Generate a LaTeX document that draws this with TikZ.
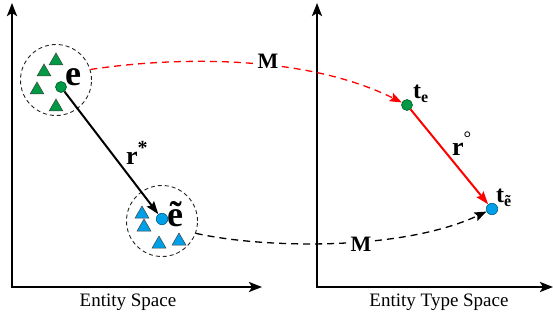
\documentclass[tikz,border=0pt]{standalone}
\usepackage{fontspec}
\setmainfont{Liberation Serif}
\usetikzlibrary{arrows.meta,shapes.geometric}
\definecolor{tgreen}{RGB}{0,153,68}
\definecolor{tblue}{RGB}{0,160,233}
\begin{document}
\begin{tikzpicture}[x=1pt,y=-1pt,
  axis/.style={line width=2.5pt,line join=miter,{Stealth[length=13pt,width=10pt,inset=3pt]}-{Stealth[length=13pt,width=10pt,inset=3pt]}},
  zone/.style={circle,draw=black!85,dash pattern=on 4pt off 3pt,line width=0.9pt,minimum size=71pt,inner sep=0pt},
  dotg/.style={circle,fill=tgreen,draw=tgreen!60!black,line width=0.6pt,minimum size=11pt,inner sep=0pt},
  dotb/.style={circle,fill=tblue,draw=tblue!60!black,line width=0.6pt,minimum size=11.5pt,inner sep=0pt},
  trig/.style={regular polygon,regular polygon sides=3,minimum size=16pt,inner sep=0pt,fill=tgreen,draw=black!75,line width=0.5pt},
  trib/.style={regular polygon,regular polygon sides=3,minimum size=16pt,inner sep=0pt,fill=tblue,draw=black!75,line width=0.5pt},
  lbl/.style={font=\bfseries,inner sep=0pt,anchor=base west},
  axlbl/.style={font=\fontsize{19}{20}\selectfont,inner sep=0pt},
  mlbl/.style={font=\fontsize{22}{22}\selectfont\bfseries,inner sep=1.5pt,fill=white},
  solidarrow/.style={line width=2pt,-{Stealth[length=13pt,width=9pt,inset=2pt]}},
  redarrow/.style={line width=2pt,red,-{Stealth[length=13pt,width=9pt,inset=2pt]}},
  reddash/.style={line width=1.3pt,red,dash pattern=on 7pt off 5pt,-{Stealth[length=12pt,width=9pt,inset=2pt]}},
  blackdash/.style={line width=1.3pt,black,dash pattern=on 7pt off 5pt,-{Stealth[length=12pt,width=9pt,inset=2pt]}}]
\useasboundingbox (0,0) rectangle (553,320);
% axes
\coordinate (ly) at (12,3);
\coordinate (lo) at (12,287);
\coordinate (lx) at (262,287);
\coordinate (ry) at (317,3);
\coordinate (ro) at (317,287);
\coordinate (rx) at (553,287);
\draw[axis] (ly) -- (lo) -- (lx);
\draw[axis] (ry) -- (ro) -- (rx);
\node[axlbl] (ls) at (128,302) {Entity Space};
\node[axlbl] (rs) at (439,302) {Entity Type Space};
% zones
\node[zone] (c1) at (56,80) {};
\node[zone] (c2) at (162,221) {};
% triangles
\node[trig] (g1) at (56,61) {};
\node[trig] (g2) at (44,72) {};
\node[trig] (g3) at (37,90) {};
\node[trig] (g4) at (56,107) {};
\node[trib] (b1) at (142,214) {};
\node[trib] (b2) at (144,227) {};
\node[trib] (b3) at (159,244) {};
\node[trib] (b4) at (179,241) {};
% dots
\node[dotg] (ge) at (61,87) {};
\node[dotb] (be) at (162,219) {};
\node[dotg] (te) at (407,105) {};
\node[dotb] (tb) at (492,209) {};
% curves
\draw[reddash] (c1.17) .. controls (165,58) and (300,52) .. (te);
\draw[blackdash] (c2.-20) .. controls (260,248) and (400,252) .. (tb);
\node[mlbl] (m1) at (268,61) {M};
\node[mlbl] (m2) at (361,244) {M};
% arrows
\draw[solidarrow] (ge) -- (be);
\draw[redarrow] (te) -- (tb);
% labels
\node[lbl,font=\fontsize{36}{36}\selectfont\bfseries] (le) at (65,86) {e};
\node[lbl,font=\fontsize{36}{36}\selectfont\bfseries] (lb) at (167,226) {ẽ};
\node[lbl,font=\fontsize{26}{26}\selectfont\bfseries] (lr1) at (126,165) {r\raisebox{0.4em}{\fontsize{20}{20}\selectfont *}};
\node[lbl,font=\fontsize{26}{26}\selectfont\bfseries] (lr2) at (452,156) {r\raisebox{0.45em}{\fontsize{19}{19}\selectfont\mdseries °}};
\node[lbl,font=\fontsize{24}{24}\selectfont\bfseries] (lte) at (413,99) {t\raisebox{-0.15em}{\fontsize{16}{16}\selectfont e}};
\node[lbl,font=\fontsize{24}{24}\selectfont\bfseries] (ltb) at (496,203) {t\raisebox{-0.15em}{\fontsize{16}{16}\selectfont ẽ}};
\end{tikzpicture}
\end{document}
